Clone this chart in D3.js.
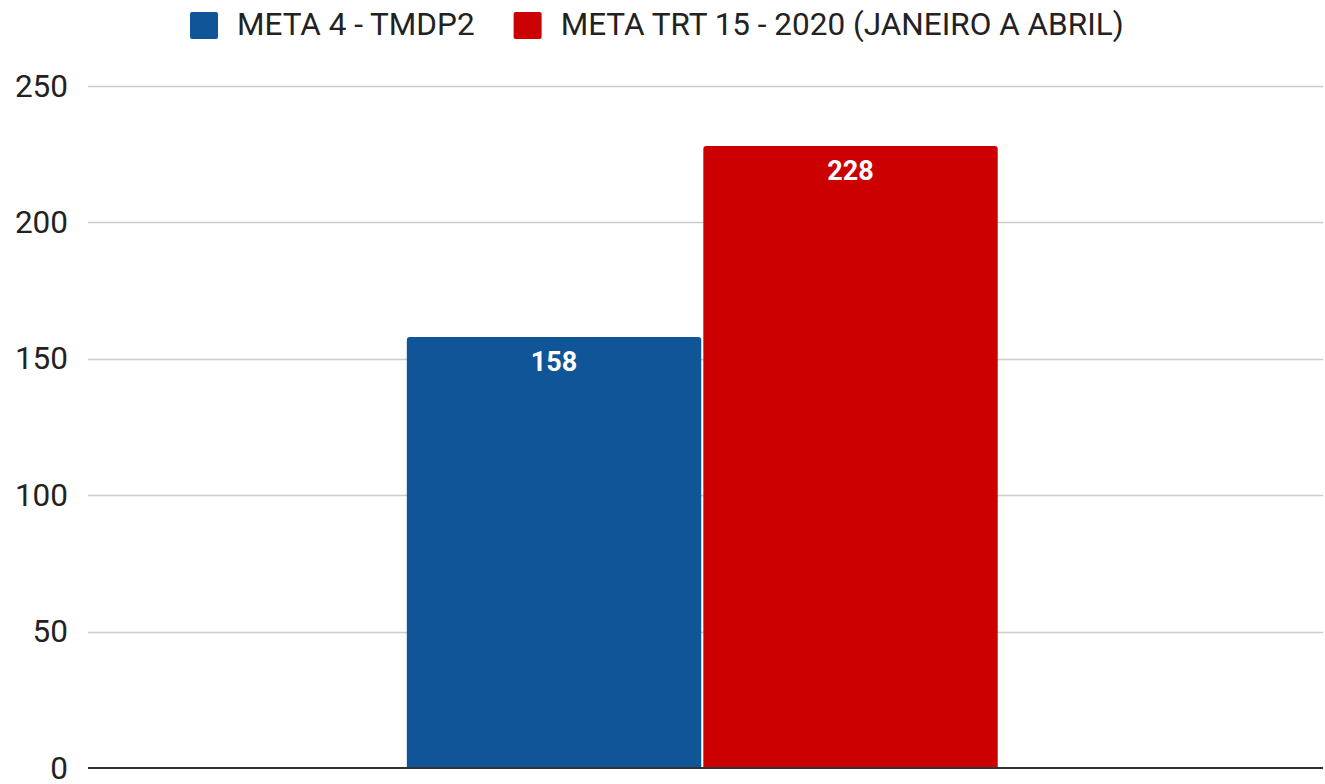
<!DOCTYPE html>
<html><head><meta charset="utf-8">
<script src="https://cdn.jsdelivr.net/npm/d3@7"></script>
<style>html,body{margin:0;padding:0;background:#fff}svg{display:block;font-family:Roboto,"Noto Sans",sans-serif}</style>
</head><body><svg id="c" width="1325" height="784"></svg>
<script>
const categories = [""];
const seriesNames = ["META 4 - TMDP2", "META TRT 15 - 2020 (JANEIRO A ABRIL)"];
const seriesValues = [[158], [228]];
const seriesColors = ["#0f5597", "#cc0000"];
const yTicks = [0, 50, 100, 150, 200, 250];

(function () {
const svg = d3.select("#c");
const mLeft = 88, mRight = 1323, mTop = 86, mBottom = 768;
const y = d3.scaleLinear().domain([0, 250]).range([mBottom, mTop]);
const x0 = d3.scaleBand().domain(categories).range([mLeft, mRight]).paddingInner(0).paddingOuter(0.545).align(0.495);
const x1 = d3.scaleBand().domain(seriesNames).range([0, x0.bandwidth()]).paddingInner(0.007);

// gridlines
svg.append("g").selectAll("line").data(yTicks.filter(d => d > 0)).join("line")
  .attr("x1", mLeft).attr("x2", mRight)
  .attr("y1", d => Math.round(y(d)) + 0.5).attr("y2", d => Math.round(y(d)) + 0.5)
  .attr("stroke", "#cccccc").attr("stroke-width", 1.5);

// y labels
svg.append("g").selectAll("text").data(yTicks).join("text")
  .attr("x", 68).attr("y", d => y(d) + 10.5)
  .attr("text-anchor", "end").attr("font-size", 31.5).attr("fill", "#222")
  .text(d => d);

// bars
function topRounded(x, yTop, w, h, r) {
  return `M${x},${yTop + h}V${yTop + r}Q${x},${yTop} ${x + r},${yTop}H${x + w - r}Q${x + w},${yTop} ${x + w},${yTop + r}V${yTop + h}Z`;
}
const barData = [];
categories.forEach((c, ci) => seriesNames.forEach((s, si) => barData.push({c, s, si, v: seriesValues[si][ci]})));
const g = svg.append("g");
g.selectAll("path").data(barData).join("path")
  .attr("d", d => {
    const bx = x0(d.c) + x1(d.s);
    return topRounded(bx, y(d.v), x1.bandwidth(), y(0) - y(d.v), 3);
  })
  .attr("fill", d => seriesColors[d.si]);
g.selectAll("text").data(barData).join("text")
  .attr("x", d => x0(d.c) + x1(d.s) + x1.bandwidth() / 2)
  .attr("y", d => y(d.v) + 34)
  .attr("text-anchor", "middle").attr("font-size", 27).attr("font-weight", "bold").attr("fill", "#fff")
  .text(d => d.v);

// baseline
svg.append("line").attr("x1", mLeft).attr("x2", mRight).attr("y1", y(0)).attr("y2", y(0))
  .attr("stroke", "#333").attr("stroke-width", 2);

// legend
const lg = svg.append("g");
let lx = 190;
seriesNames.forEach((s, i) => {
  lg.append("rect").attr("x", lx).attr("y", 12).attr("width", 28).attr("height", 27).attr("rx", 2)
    .attr("fill", seriesColors[i]);
  const t = lg.append("text").attr("x", lx + 47).attr("y", 35).attr("font-size", 31.5).attr("fill", "#222").text(s);
  lx = lx + 47 + t.node().getComputedTextLength() + 39;
});
})();
</script></body></html>
